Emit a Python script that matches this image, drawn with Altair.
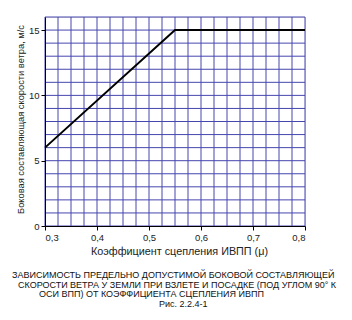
import altair as alt
import pandas as pd

# data
mu = [0.3, 0.55, 0.8]
wind = [6, 15, 15]
x_grid = [0.3 + 0.025 * i for i in range(21)]
y_grid = list(range(0, 17))
x_ticks = [0.3, 0.4, 0.5, 0.6, 0.7, 0.8]
y_ticks = [0, 5, 10, 15]
caption_lines = [
    "ЗАВИСИМОСТЬ ПРЕДЕЛЬНО ДОПУСТИМОЙ БОКОВОЙ СОСТАВЛЯЮЩЕЙ",
    "СКОРОСТИ ВЕТРА У ЗЕМЛИ ПРИ ВЗЛЕТЕ И ПОСАДКЕ (ПОД УГЛОМ 90° К",
    "ОСИ ВПП) ОТ КОЭФФИЦИЕНТА СЦЕПЛЕНИЯ ИВПП",
    "Рис.  2.2.4-1",
]

FONT = "Liberation Sans"
GRID = "#4646b0"

xs = alt.Scale(domain=[0.3, 0.8], nice=False, zero=False)
ys = alt.Scale(domain=[0, 16], nice=False)

common = dict(
    grid=False,
    tickSize=4,
    tickColor="black",
    domainColor="black",
    labelFont=FONT,
    labelFontSize=9.5,
    labelColor="#222",
    labelPadding=2,
    titleFont=FONT,
    titleFontWeight="normal",
    titleColor="#222",
    zindex=1,
)
x_axis = alt.Axis(
    values=x_ticks,
    labelExpr="replace(format(datum.value, '.1f'), '.', ',')",
    title="Коэффициент сцепления ИВПП (μ)",
    titleFontSize=10.8,
    titlePadding=4,
    titleX=134,
    **common,
)
y_axis = alt.Axis(
    values=y_ticks,
    format="d",
    title="Боковая составляющая скорости ветра, м/с",
    titleFontSize=9.3,
    titlePadding=3,
    titleY=102,
    **common,
)

df_line = pd.DataFrame({"mu": mu, "w": wind})

vgrid = alt.Chart(pd.DataFrame({"mu": x_grid})).mark_rule(color=GRID, strokeWidth=1).encode(
    x=alt.X("mu:Q", scale=xs, axis=x_axis)
)
hgrid = alt.Chart(pd.DataFrame({"w": y_grid})).mark_rule(color=GRID, strokeWidth=1).encode(
    y=alt.Y("w:Q", scale=ys, axis=y_axis)
)

line = alt.Chart(df_line).mark_line(color="black", strokeWidth=2).encode(
    x=alt.X("mu:Q", scale=xs, axis=x_axis),
    y=alt.Y("w:Q", scale=ys, axis=y_axis),
)

cap_pos = [(-33, 258), (-27, 268), (-6, 277), (114, 287)]
caps = []
for txt, (cx, cy) in zip(caption_lines, cap_pos):
    caps.append(
        alt.Chart(pd.DataFrame({"t": [txt]}))
        .mark_text(align="left", baseline="middle", font=FONT, fontSize=9, color="#111")
        .encode(text="t:N", x=alt.value(cx), y=alt.value(cy))
    )

chart = alt.layer(vgrid, hgrid, line, *caps).properties(
    width=260,
    height=209,
    autosize=alt.AutoSizeParams(type="none"),
    padding={"left": 45, "top": 17, "right": 47, "bottom": 94},
).configure_view(stroke=None).configure(background="white")

chart.save("out.html", embed_options={"renderer": "svg", "actions": False})
